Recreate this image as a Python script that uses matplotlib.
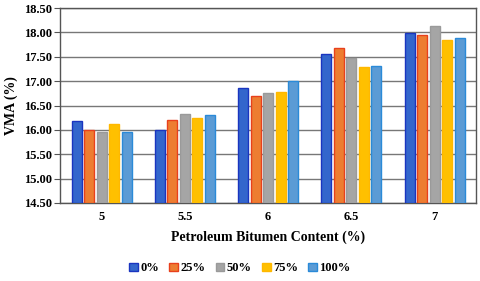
import matplotlib
matplotlib.use('Agg')
import matplotlib.pyplot as plt
import numpy as np

plt.rcParams['font.family'] = ['Liberation Serif', 'DejaVu Serif']
plt.rcParams['font.weight'] = 'bold'

contents = ['5', '5.5', '6', '6.5', '7']
series = ['0%', '25%', '50%', '75%', '100%']
vma_0 = [16.18, 16.00, 16.85, 17.56, 17.99]
vma_25 = [16.00, 16.21, 16.70, 17.68, 17.95]
vma_50 = [15.95, 16.33, 16.75, 17.48, 18.14]
vma_75 = [16.13, 16.25, 16.77, 17.30, 17.84]
vma_100 = [15.96, 16.31, 17.00, 17.32, 17.89]

fills = ['#3366CC', '#ED7D31', '#A5A5A5', '#FFC000', '#5B9BD5']
edges = ['#1A35C0', '#E8401C', '#9A9A9A', '#FFB800', '#2A8AD8']

fig = plt.figure(figsize=(4.8, 2.81), dpi=100)
ax = fig.add_axes([0.125, 0.2776, 0.867, 0.6939])

x = np.arange(len(contents))
pitch = 0.15
width = 0.12
for i, (vals, lab) in enumerate(zip([vma_0, vma_25, vma_50, vma_75, vma_100], series)):
    ax.bar(x + (i - 2) * pitch, np.array(vals) - 14.5, bottom=14.5, width=width,
           color=fills[i], edgecolor=edges[i], linewidth=1.0, label=lab, zorder=3)

ax.set_xlim(-0.5, 4.5)
ax.set_ylim(14.5, 18.5)
ax.set_yticks(np.arange(14.5, 18.51, 0.5))
ax.set_yticklabels([f'{v:.2f}' for v in np.arange(14.5, 18.51, 0.5)], fontsize=9)
ax.set_xticks(x)
ax.set_xticklabels(contents, fontsize=9)
ax.tick_params(axis='x', length=0, pad=6)
ax.tick_params(axis='y', length=4, width=0.8, color='#555555', pad=2)
ax.grid(axis='y', color='#777777', linewidth=1.0, zorder=0)
for s in ax.spines.values():
    s.set_color('#555555')
    s.set_linewidth(1.0)

ax.set_ylabel('VMA (%)', fontsize=10, fontweight='bold', labelpad=4)
ax.set_xlabel('Petroleum Bitumen Content (%)', fontsize=10, fontweight='bold', labelpad=5)

fig.legend(*ax.get_legend_handles_labels(), loc='center', bbox_to_anchor=(0.5, 0.045),
           ncol=5, frameon=False, fontsize=9, handlelength=0.7, handleheight=0.7,
           handletextpad=0.2, columnspacing=0.8)

fig.savefig('out.png', dpi=100)
